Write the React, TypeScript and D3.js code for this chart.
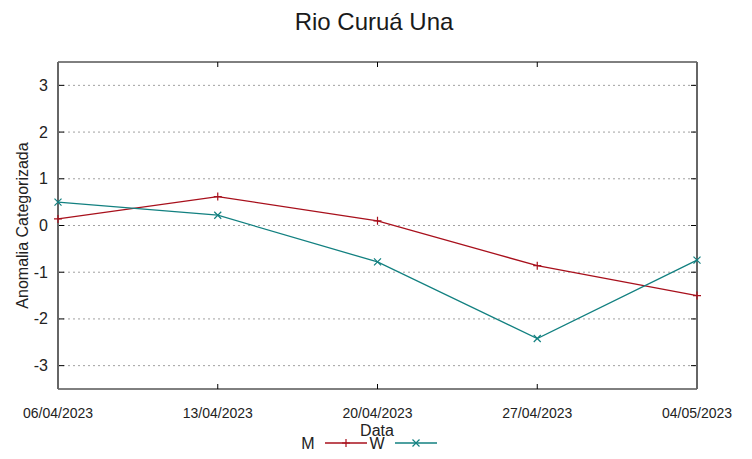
import React from "react";
import * as d3 from "d3";

const dates = ["06/04/2023", "13/04/2023", "20/04/2023", "27/04/2023", "04/05/2023"];
const seriesM = [0.14, 0.62, 0.1, -0.86, -1.5];
const seriesW = [0.5, 0.22, -0.78, -2.42, -0.74];
const yTicks = [-3, -2, -1, 0, 1, 2, 3];

const W = 752, H = 459;
const L = 58, R = 697, T = 62, B = 389;
const red = "#a8101c";
const teal = "#128080";
const sans = "'Liberation Sans', Arial, sans-serif";

export default function App() {
  const x = d3.scalePoint<string>().domain(dates).range([L, R]);
  const y = d3.scaleLinear().domain([-3.5, 3.5]).range([B, T]);
  const line = d3.line<number>().x((_, i) => x(dates[i])!).y((d) => y(d));

  const plus = (cx: number, cy: number, s = 4) => `M${cx - s},${cy}H${cx + s}M${cx},${cy - s}V${cy + s}`;
  const cross = (cx: number, cy: number, s = 3.5) =>
    `M${cx - s},${cy - s}L${cx + s},${cy + s}M${cx - s},${cy + s}L${cx + s},${cy - s}`;

  return (
    <svg width={W} height={H} style={{ position: "absolute", left: 0, top: 0, background: "#fff" }}>
      <rect width={W} height={H} fill="#fff" />
      <text x={374} y={30} textAnchor="middle" fontFamily={sans} fontSize={24} fill="#1a1a1a">
        Rio Curuá Una
      </text>
      {yTicks.map((t) => (
        <g key={t}>
          <line x1={L} x2={R} y1={y(t)} y2={y(t)} stroke="#a0a0a0" strokeWidth={1} strokeDasharray="2,3" />
          <line x1={L} x2={L + 6} y1={y(t)} y2={y(t)} stroke="#000" />
          <line x1={R - 6} x2={R} y1={y(t)} y2={y(t)} stroke="#000" />
          <text x={L - 10} y={y(t) + 5.5} textAnchor="end" fontFamily={sans} fontSize={16} fill="#222">
            {t}
          </text>
        </g>
      ))}
      {dates.map((d) => (
        <g key={d}>
          <line x1={x(d)} x2={x(d)} y1={B} y2={B - 5} stroke="#000" />
          <line x1={x(d)} x2={x(d)} y1={T} y2={T + 5} stroke="#000" />
          <text x={x(d)} y={418} textAnchor="middle" fontFamily={sans} fontSize={14} fill="#222">
            {d}
          </text>
        </g>
      ))}
      <line x1={L} x2={R} y1={T} y2={T} stroke="#000" />
      <line x1={L} x2={R} y1={B} y2={B} stroke="#000" />
      <line x1={L} x2={L} y1={T} y2={B} stroke="#666" strokeWidth={2} />
      <line x1={R} x2={R} y1={T} y2={B} stroke="#666" strokeWidth={2} />
      <path d={line(seriesM)!} fill="none" stroke={red} strokeWidth={1.3} />
      <path d={line(seriesW)!} fill="none" stroke={teal} strokeWidth={1.3} />
      {seriesM.map((v, i) => (
        <path key={"m" + i} d={plus(x(dates[i])!, y(v))} stroke={red} strokeWidth={1.2} fill="none" />
      ))}
      {seriesW.map((v, i) => (
        <path key={"w" + i} d={cross(x(dates[i])!, y(v))} stroke={teal} strokeWidth={1.2} fill="none" />
      ))}
      <text
        transform={`translate(28,${(T + B) / 2}) rotate(-90)`}
        textAnchor="middle"
        fontFamily={sans}
        fontSize={16}
        fill="#222"
      >
        Anomalia Categorizada
      </text>
      <text x={377} y={436} textAnchor="middle" fontFamily={sans} fontSize={16} fill="#222">
        Data
      </text>
      <text x={308} y={449} textAnchor="middle" fontFamily={sans} fontSize={16} fill="#222">
        M
      </text>
      <line x1={325} x2={367} y1={443} y2={443} stroke={red} strokeWidth={1.3} />
      <path d={plus(346, 443)} stroke={red} strokeWidth={1.2} />
      <text x={377} y={449} textAnchor="middle" fontFamily={sans} fontSize={16} fill="#222">
        W
      </text>
      <line x1={395} x2={437} y1={443} y2={443} stroke={teal} strokeWidth={1.3} />
      <path d={cross(416, 443)} stroke={teal} strokeWidth={1.2} />
    </svg>
  );
}
